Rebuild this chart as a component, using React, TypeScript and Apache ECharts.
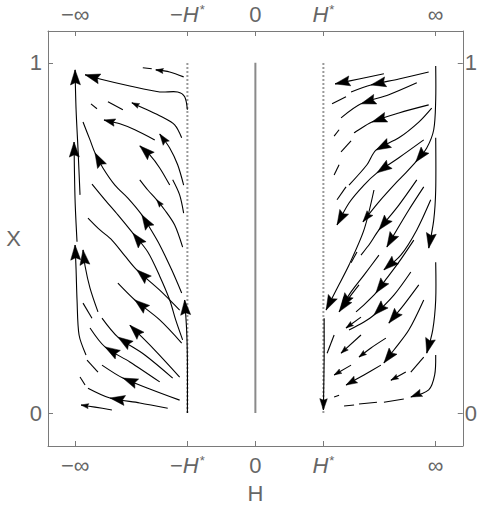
import React, { useEffect, useRef } from "react";
import * as echarts from "echarts";

// axis ticks (H in units of H*, X in [0,1])
const xTickValues = [-2.65, -1, 0, 1, 2.65];
const xTickLabels = ["−∞", "−H*", "0", "H*", "∞"];
const yTickValues = [0, 1];
const yTickLabels = ["0", "1"];

// reference lines
const centreLine = [[0, 0], [0, 1]];
const leftCritLine = [[-1, 0], [-1, 1]];
const rightCritLine = [[1, 0], [1, 1]];

// streamlines: p = points [H, X] in flow order, a = [point index of arrow tip, relative speed]
const leftStreams = [
  { p: [[-1.055, 0.96], [-1.26, 0.974], [-1.465, 0.98]], a: [[2, 0.5]] },
  { p: [[-1.524, 0.983], [-1.656, 0.986]], a: [] },
  { p: [[-1.0, 0.866], [-1.04, 0.903], [-1.143, 0.917], [-1.407, 0.917], [-1.846, 0.934], [-2.286, 0.954], [-2.505, 0.966]], a: [[6, 1]] },
  { p: [[-2.579, 0.623], [-2.608, 0.751], [-2.637, 0.866], [-2.652, 0.98]], a: [[3, 1]] },
  { p: [[-2.623, 0.489], [-2.652, 0.609], [-2.667, 0.774]], a: [[2, 1]] },
  { p: [[-2.491, 0.166], [-2.593, 0.223], [-2.623, 0.323], [-2.637, 0.409], [-2.652, 0.48]], a: [[4, 1]] },
  { p: [[-2.315, 0.289], [-2.432, 0.357], [-2.505, 0.42], [-2.535, 0.466]], a: [[3, 1]] },
  { p: [[-1.084, 0.786], [-1.187, 0.823], [-1.377, 0.846], [-1.626, 0.869], [-1.817, 0.886]], a: [[4, 0.5]] },
  { p: [[-1.949, 0.866], [-2.168, 0.889]], a: [] },
  { p: [[-2.33, 0.869], [-2.418, 0.883]], a: [] },
  { p: [[-1.055, 0.651], [-1.143, 0.709], [-1.26, 0.757], [-1.407, 0.797]], a: [[3, 0.75]] },
  { p: [[-1.48, 0.78], [-1.773, 0.809], [-1.993, 0.826], [-2.227, 0.837]], a: [[3, 0.75]] },
  { p: [[-1.26, 0.651], [-1.407, 0.7], [-1.553, 0.737], [-1.7, 0.763]], a: [[3, 1]] },
  { p: [[-1.084, 0.343], [-1.231, 0.409], [-1.407, 0.48], [-1.553, 0.529], [-1.67, 0.566], [-1.875, 0.614], [-2.066, 0.651], [-2.242, 0.7], [-2.359, 0.743], [-2.432, 0.78], [-2.535, 0.831]], a: [[4, 1], [8, 1]] },
  { p: [[-1.07, 0.209], [-1.172, 0.266], [-1.26, 0.323], [-1.407, 0.391], [-1.582, 0.46], [-1.802, 0.514], [-2.022, 0.566], [-2.212, 0.609], [-2.403, 0.654]], a: [[5, 1]] },
  { p: [[-1.114, 0.294], [-1.407, 0.351], [-1.744, 0.409], [-1.919, 0.449], [-2.11, 0.494], [-2.286, 0.523], [-2.462, 0.557]], a: [[2, 1]] },
  { p: [[-1.084, 0.2], [-1.407, 0.266], [-1.773, 0.323], [-2.022, 0.371]], a: [[2, 1]] },
  { p: [[-1.0, 0.0], [-1.0, 0.151], [-1.011, 0.237], [-1.04, 0.323]], a: [[3, 1]] },
  { p: [[-1.114, 0.103], [-1.48, 0.18], [-1.846, 0.251]], a: [[2, 1]] },
  { p: [[-2.403, 0.271], [-2.535, 0.314]], a: [] },
  { p: [[-1.216, 0.1], [-1.626, 0.166], [-2.022, 0.217], [-2.256, 0.271]], a: [[2, 1]] },
  { p: [[-1.407, 0.089], [-1.846, 0.146], [-2.212, 0.189], [-2.432, 0.243]], a: [[2, 1]] },
  { p: [[-1.114, 0.037], [-1.553, 0.069], [-1.949, 0.1], [-2.256, 0.137]], a: [[2, 1]] },
  { p: [[-2.315, 0.117], [-2.476, 0.151]], a: [] },
  { p: [[-1.289, 0.014], [-1.7, 0.029], [-2.139, 0.043], [-2.462, 0.071]], a: [[2, 1]] },
  { p: [[-2.11, 0.009], [-2.359, 0.017], [-2.564, 0.023]], a: [[2, 0.5]] },
  { p: [[-2.505, 0.08], [-2.579, 0.103]], a: [] },
  { p: [[-1.055, 0.571], [-1.114, 0.623], [-1.216, 0.666]], a: [] },
  { p: [[-1.07, 0.474], [-1.187, 0.537], [-1.333, 0.58], [-1.451, 0.609], [-1.582, 0.637], [-1.7, 0.666]], a: [[3, 0.5]] },
];

const rightStreams = [
  { p: [[1.89, 0.969], [1.524, 0.954], [1.172, 0.94]], a: [[2, 1]] },
  { p: [[2.549, 0.974], [2.11, 0.954], [1.7, 0.937], [1.407, 0.917]], a: [[2, 1]] },
  { p: [[1.333, 0.903], [1.128, 0.883]], a: [] },
  { p: [[2.374, 0.943], [1.963, 0.909], [1.553, 0.883], [1.26, 0.843]], a: [[2, 1]] },
  { p: [[1.231, 0.809], [1.158, 0.791]], a: [] },
  { p: [[2.549, 0.88], [2.11, 0.857], [1.714, 0.831], [1.451, 0.8]], a: [[2, 1]] },
  { p: [[1.407, 0.777], [1.26, 0.746]], a: [] },
  { p: [[2.593, 0.871], [2.403, 0.831], [2.11, 0.786], [1.773, 0.751], [1.641, 0.709], [1.377, 0.651]], a: [[3, 1]] },
  { p: [[1.231, 0.709], [1.158, 0.68]], a: [] },
  { p: [[2.476, 0.78], [2.11, 0.729], [1.788, 0.686], [1.597, 0.651], [1.377, 0.6], [1.201, 0.537]], a: [[2, 1], [5, 1]] },
  { p: [[2.652, 0.991], [2.652, 0.894], [2.623, 0.809], [2.52, 0.757], [2.359, 0.717], [2.183, 0.68], [2.081, 0.66], [1.817, 0.603], [1.582, 0.546]], a: [[4, 1], [8, 0.75]] },
  { p: [[1.333, 0.646], [1.201, 0.609]], a: [] },
  { p: [[2.652, 0.786], [2.652, 0.637], [2.623, 0.551], [2.549, 0.471]], a: [[3, 1]] },
  { p: [[2.652, 0.431], [2.652, 0.323], [2.608, 0.237], [2.52, 0.171]], a: [[3, 1]] },
  { p: [[2.652, 0.166], [2.637, 0.109], [2.549, 0.066], [2.286, 0.046]], a: [[3, 0.75]] },
  { p: [[2.183, 0.04], [1.89, 0.031]], a: [] },
  { p: [[1.788, 0.031], [1.524, 0.026]], a: [] },
  { p: [[1.451, 0.023], [1.304, 0.02]], a: [] },
  { p: [[2.476, 0.323], [2.256, 0.237], [2.037, 0.18], [1.89, 0.143]], a: [[3, 1]] },
  { p: [[2.476, 0.646], [2.256, 0.58], [2.037, 0.509], [1.934, 0.474]], a: [[3, 1]] },
  { p: [[2.579, 0.609], [2.374, 0.523], [2.139, 0.451], [1.89, 0.409]], a: [[3, 1]] },
  { p: [[2.374, 0.666], [2.11, 0.594], [1.817, 0.523], [1.67, 0.48], [1.553, 0.451]], a: [[2, 1]] },
  { p: [[1.494, 0.46], [1.407, 0.429]], a: [] },
  { p: [[1.744, 0.637], [1.597, 0.523], [1.377, 0.423], [1.187, 0.351], [1.04, 0.294]], a: [[4, 1]] },
  { p: [[1.011, 0.271], [1.011, 0.151], [1.0, 0.009]], a: [[2, 0.75]] },
  { p: [[1.817, 0.451], [1.597, 0.394], [1.407, 0.346], [1.26, 0.3]], a: [[3, 1]] },
  { p: [[2.33, 0.494], [2.11, 0.431], [1.89, 0.374], [1.773, 0.343], [1.597, 0.309], [1.48, 0.289]], a: [[3, 1]] },
  { p: [[2.286, 0.403], [2.037, 0.337], [1.744, 0.28], [1.597, 0.26], [1.377, 0.237]], a: [[2, 1]] },
  { p: [[2.403, 0.366], [2.183, 0.309], [1.963, 0.257]], a: [[2, 1]] },
  { p: [[1.919, 0.214], [1.7, 0.186], [1.524, 0.16]], a: [[2, 0.5]] },
  { p: [[1.524, 0.366], [1.377, 0.329], [1.231, 0.289]], a: [[2, 1]] },
  { p: [[1.553, 0.274], [1.333, 0.243]], a: [[1, 0.5]] },
  { p: [[1.553, 0.223], [1.26, 0.171]], a: [[1, 0.5]] },
  { p: [[1.407, 0.137], [1.158, 0.109]], a: [[1, 0.5]] },
  { p: [[1.846, 0.137], [1.597, 0.109], [1.333, 0.08]], a: [[2, 0.75]] },
  { p: [[2.212, 0.117], [1.993, 0.094]], a: [[1, 0.5]] },
  { p: [[2.476, 0.16], [2.286, 0.117]], a: [] },
  { p: [[1.158, 0.223], [1.055, 0.171]], a: [] },
  { p: [[1.231, 0.051], [1.158, 0.046]], a: [] },
];

const allStreams = [...leftStreams, ...rightStreams];

const TEXT = "#666666";
const FRAME = "#7a7a7a";
const FONT = "Liberation Sans";
const FS = 22;

function richLabel(s: string) {
  // turn "H*" into italic H with superscript star
  if (s.includes("H*")) {
    const pre = s.replace("H*", "");
    return (pre ? "{n|" + pre + "}" : "") + "{i|H}{s|*}";
  }
  return "{n|" + s + "}";
}

function xFormatter(v: number) {
  for (let k = 0; k < xTickValues.length; k++) {
    if (Math.abs(v - xTickValues[k]) < 1e-6) return richLabel(xTickLabels[k]);
  }
  return "";
}
function yFormatter(v: number) {
  for (let k = 0; k < yTickValues.length; k++) {
    if (Math.abs(v - yTickValues[k]) < 1e-6) return yTickLabels[k];
  }
  return "";
}

const rich = {
  n: { fontSize: FS, color: TEXT, fontFamily: FONT, lineHeight: 22 },
  i: { fontSize: FS, color: TEXT, fontFamily: FONT, fontStyle: "italic", lineHeight: 22 },
  s: { fontSize: 13, color: TEXT, fontFamily: FONT, verticalAlign: "top", lineHeight: 22, padding: [0, 0, 8, 1] },
};

function renderStream(params: any, api: any) {
  const s = allStreams[api.value(0)];
  const pts = s.p.map((q: number[]) => api.coord(q));
  const children: any[] = [
    {
      type: "polyline",
      shape: { points: pts, smooth: 0.3 },
      style: { stroke: "#000", lineWidth: 1.1, fill: null },
    },
  ];
  for (const [idx, sp] of s.a) {
    const tip = pts[idx];
    const prev = pts[idx - 1];
    let dx = tip[0] - prev[0];
    let dy = tip[1] - prev[1];
    const d = Math.hypot(dx, dy) || 1;
    dx /= d;
    dy /= d;
    const len = 15 * sp;
    const w = 5 * sp;
    const bx = tip[0] - dx * len;
    const by = tip[1] - dy * len;
    children.push({
      type: "polygon",
      shape: {
        points: [
          tip,
          [bx - dy * w, by + dx * w],
          [tip[0] - dx * len * 0.85, tip[1] - dy * len * 0.85],
          [bx + dy * w, by - dx * w],
        ],
      },
      style: { fill: "#000", stroke: "#000", lineWidth: 0.5 },
    });
  }
  return { type: "group", children };
}

export default function App() {
  const ref = useRef<HTMLDivElement>(null);
  useEffect(() => {
    if (!ref.current) return;
    const chart = echarts.init(ref.current, null, { renderer: "svg" });
    const xAxisBase = {
      type: "value",
      min: -3.05,
      max: 3.05,
      splitLine: { show: false },
      axisLine: { onZero: false, lineStyle: { color: FRAME, width: 1 } },
      axisTick: { inside: true, length: 5, customValues: xTickValues, lineStyle: { color: FRAME } },
      axisLabel: {
        customValues: xTickValues,
        formatter: xFormatter,
        rich,
        margin: 8,
        fontSize: FS,
        fontFamily: FONT,
        color: TEXT,
      },
    };
    const yAxisBase = {
      type: "value",
      min: -0.094,
      max: 1.091,
      splitLine: { show: false },
      axisLine: { onZero: false, lineStyle: { color: FRAME, width: 1 } },
      axisTick: { inside: true, length: 5, customValues: yTickValues, lineStyle: { color: FRAME } },
      axisLabel: {
        customValues: yTickValues,
        formatter: yFormatter,
        color: TEXT,
        fontSize: FS,
        fontFamily: FONT,
        margin: 6,
      },
    };
    chart.setOption({
      animation: false,
      backgroundColor: "#fff",
      textStyle: { fontFamily: FONT, fontSize: FS },
      grid: { left: 48, right: 16, top: 31, bottom: 64 },
      xAxis: [
        {
          ...xAxisBase,
          position: "bottom",
          name: "H",
          nameLocation: "middle",
          nameGap: 36,
          nameTextStyle: { color: TEXT, fontSize: FS, fontFamily: FONT },
        },
        { ...xAxisBase, position: "top", axisLabel: { ...xAxisBase.axisLabel, margin: 6 } },
      ],
      yAxis: [
        {
          ...yAxisBase,
          position: "left",
          name: "X",
          nameLocation: "middle",
          nameRotate: 0,
          nameGap: 27,
          nameTextStyle: { color: TEXT, fontSize: FS, fontFamily: FONT },
        },
        { ...yAxisBase, position: "right", axisLabel: { ...yAxisBase.axisLabel, margin: 2 } },
      ],
      series: [
        {
          type: "line",
          data: centreLine,
          symbol: "none",
          lineStyle: { color: "#8a8a8a", width: 2 },
          silent: true,
        },
        {
          type: "line",
          data: leftCritLine,
          symbol: "none",
          lineStyle: { color: "#999", width: 2, type: [2, 2] },
          silent: true,
        },
        {
          type: "line",
          data: rightCritLine,
          symbol: "none",
          lineStyle: { color: "#999", width: 2, type: [2, 2] },
          silent: true,
        },
        {
          type: "custom",
          coordinateSystem: "cartesian2d",
          data: allStreams.map((_, i) => [i]),
          renderItem: renderStream,
          clip: false,
          silent: true,
          z: 5,
        },
      ],
    });
    return () => chart.dispose();
  }, []);
  return (
    <div
      ref={ref}
      style={{ position: "absolute", left: 0, top: 0, width: 480, height: 510 }}
    />
  );
}
